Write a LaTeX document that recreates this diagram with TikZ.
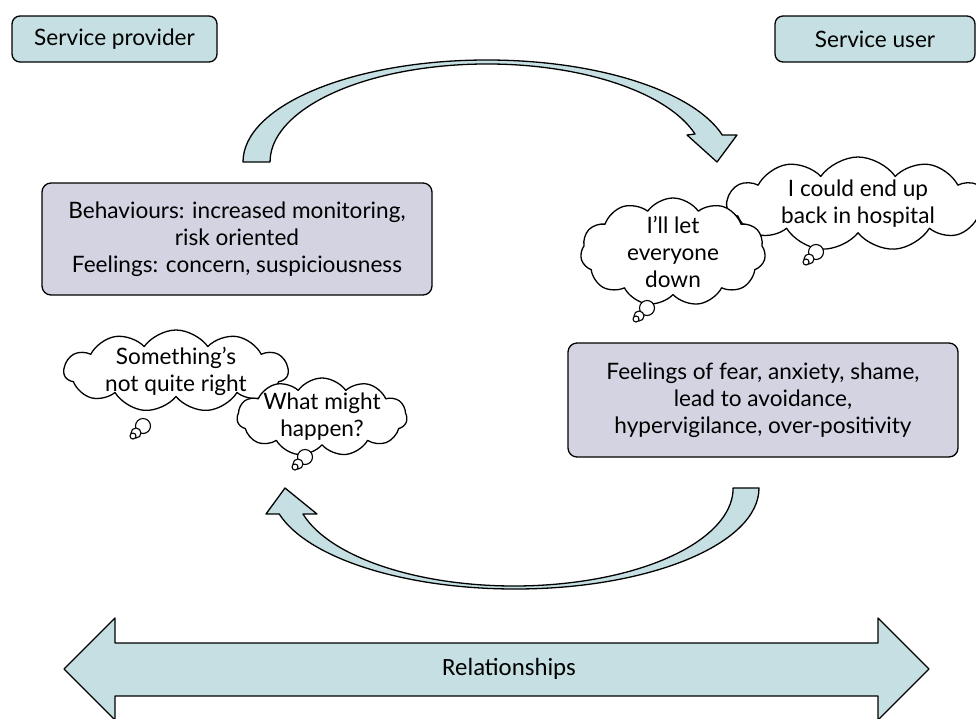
\documentclass[tikz,border=0pt]{standalone}
\usepackage{fontspec}
\setmainfont{Lato}
\newfontfamily\calib{Carlito}
\usetikzlibrary{shapes.symbols}
\definecolor{lblue}{RGB}{197,223,226}
\definecolor{lav}{RGB}{211,211,226}
\begin{document}
\begin{tikzpicture}[x=1pt,y=-1pt,line join=round,
  txt/.style={font=\fontsize{22.6}{27}\selectfont,align=center},
  tag/.style={txt,draw=black,line width=1.3pt,rounded corners=8pt,fill=lblue,inner sep=0pt},
  infobox/.style={txt,draw=black,line width=1.3pt,rounded corners=9pt,fill=lav,inner sep=0pt},
  thought/.style={txt,cloud,cloud puffs=11,cloud puff arc=110,cloud ignores aspect,draw=black,line width=1.3pt,fill=white,inner sep=-14pt},
  bub/.style={circle,draw=black,line width=1.1pt,fill=white,inner sep=0pt},
  bigarrow/.style={draw=black,line width=1.3pt,fill=lblue}]
\useasboundingbox (0,0) rectangle (976,718);

% labels
\node[tag,minimum width=205pt,minimum height=46pt] (sp) at (114.5,39) {Service provider};
\node[tag,minimum width=200pt,minimum height=46pt] (su) at (875,39) {Service user};

% boxes
\node[infobox,minimum width=390pt,minimum height=112pt] (beh) at (237,239)
  {Behaviours: increased monitoring,\\risk oriented\\Feelings: concern, suspiciousness};
\node[infobox,minimum width=390pt,minimum height=114pt] (fear) at (763,400)
  {Feelings of fear, anxiety, shame,\\lead to avoidance,\\hypervigilance, over-positivity};

% top curved arrow
\draw[bigarrow] (243,162) arc[start angle=180,end angle=344.7,x radius=244,y radius=102]
  -- (737,135) -- (717,162) -- (687,135) -- (695,134)
  arc[start angle=343.4,end angle=180,x radius=217,y radius=98] -- cycle;

% bottom curved arrow
\draw[bigarrow] (759,488) arc[start angle=0,end angle=165.1,x radius=244,y radius=101]
  -- (266,514) -- (285,488) -- (317,514) -- (303,514)
  arc[start angle=164.6,end angle=0,x radius=219,y radius=98] -- cycle;

% clouds left
\node[thought,minimum width=224pt,minimum height=82pt] (c1) at (176,371) {Something’s\\not quite right};
\node[bub,minimum size=15pt] (b1a) at (143,426) {};
\node[bub,minimum size=10pt] (b1b) at (136,433) {};
\node[bub,minimum size=6pt] (b1c) at (133,436) {};
\node[thought,minimum width=170pt,minimum height=78pt] (c2) at (322,417) {What might\\happen?};
\node[bub,minimum size=15pt] (b2a) at (305,457) {};
\node[bub,minimum size=10pt] (b2b) at (298,464) {};
\node[bub,minimum size=6pt] (b2c) at (295,467) {};

% clouds right
\node[thought,minimum width=262pt,minimum height=94pt] (c4) at (858,204) {I could end up\\back in hospital};
\node[bub,minimum size=15pt] (b4a) at (816,252) {};
\node[bub,minimum size=10pt] (b4b) at (809,259) {};
\node[bub,minimum size=6pt] (b4c) at (806,262) {};
\node[thought,minimum width=185pt,minimum height=108pt] (c3) at (673,252) {I’ll let\\everyone\\down};
\node[bub,minimum size=15pt] (b3a) at (647,308) {};
\node[bub,minimum size=10pt] (b3b) at (639,316) {};
\node[bub,minimum size=6pt] (b3c) at (636,319) {};

% relationships double arrow
\draw[bigarrow] (64,669) -- (115,618) -- (115,643) -- (878,643) -- (878,618) -- (929,669)
  -- (878,720) -- (878,696) -- (115,696) -- (115,720) -- cycle;
\node[font=\calib\fontsize{24.8}{28}\selectfont] (rel) at (509,669) {Relationships};
\end{tikzpicture}
\end{document}
